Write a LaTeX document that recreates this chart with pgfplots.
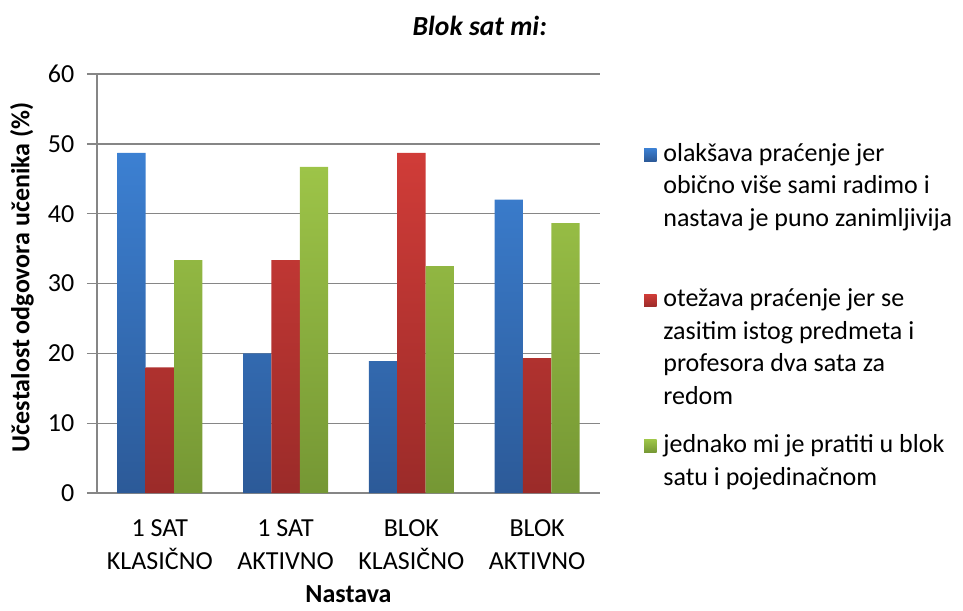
\documentclass[border=0pt]{standalone}
\usepackage{fontspec}
\setmainfont{Carlito}
\usepackage{pgfplots}
\pgfplotsset{compat=1.18}
\definecolor{gridgray}{RGB}{134,134,134}
\definecolor{bluetop}{RGB}{60,128,210}
\definecolor{bluebot}{RGB}{44,90,152}
\definecolor{redtop}{RGB}{208,60,56}
\definecolor{redbot}{RGB}{155,43,41}
\definecolor{greentop}{RGB}{157,196,72}
\definecolor{greenbot}{RGB}{117,151,52}
\newcommand{\cf}{\fontsize{19.5}{24.4}\selectfont}
\newcommand{\lt}[1]{\begin{tabular}[t]{@{\hspace{5pt}}l@{}}#1\end{tabular}}
\begin{document}
\begin{tikzpicture}
\useasboundingbox (-72.75pt,-87.75pt) rectangle (649.5pt,369.75pt);
\begin{axis}[
  scale only axis,
  width=377.25pt, height=314.25pt,
  at={(0,0)}, anchor=south west,
  ybar=0pt, bar width=21.3pt,
  xmin=-0.5, xmax=3.5, ymin=0, ymax=60,
  xtick={0,1,2,3},
  xticklabels={{1 SAT\\KLASIČNO},{1 SAT\\AKTIVNO},{BLOK\\KLASIČNO},{BLOK\\AKTIVNO}},
  xticklabel style={align=center, font=\cf, text=black, yshift=-9pt},
  ytick={0,10,20,30,40,50,60},
  yticklabel style={font=\cf, text=black, xshift=-6pt},
  /pgf/number format/assume math mode=true,
  axis x line*=bottom, axis y line*=left,
  axis line style={gridgray, line width=1pt},
  x axis line style={-}, y axis line style={-},
  ymajorgrids, major grid style={gridgray, line width=1pt},
  tick align=outside, major tick length=7.5pt,
  ytick style={gridgray, line width=1pt},
  xtick style={draw=none},
  ylabel={\textbf{Učestalost odgovora učenika (\%)}},
  ylabel style={font=\cf, at={(axis description cs:-0.149,0.515)}, anchor=center, rotate=0},
  xlabel={\textbf{Nastava}},
  xlabel style={font=\cf, at={(axis description cs:0.5,-0.241)}, anchor=center},
  legend style={draw=none, fill=none, at={(axis description cs:1.087,0.847)}, anchor=north west, font=\cf, row sep=90.7pt, inner sep=0pt,
    nodes={anchor=base west, inner sep=0pt}},
  legend cell align=left,
  legend image code/.code={\path[#1] (0pt,0pt) rectangle (9.5pt,9.5pt);},
  clip=false,
]
\addplot[draw=none, top color=bluetop, bottom color=bluebot] coordinates {(0,48.7) (1,20.0) (2,18.9) (3,42.0)};
\addplot[draw=none, top color=redtop, bottom color=redbot] coordinates {(0,18.0) (1,33.35) (2,48.7) (3,19.3)};
\addplot[draw=none, top color=greentop, bottom color=greenbot] coordinates {(0,33.35) (1,46.7) (2,32.5) (3,38.65)};
\legend{{\lt{olakšava praćenje jer\\obično više sami radimo i\\nastava je puno zanimljivija}},
{\lt{otežava praćenje jer se\\zasitim istog predmeta i\\profesora dva sata za\\redom}},
{\lt{jednako mi je pratiti u blok\\satu i pojedinačnom}}}
\node[font=\fontsize{20.7}{25}\selectfont\bfseries\itshape] at (axis description cs:0.761,1.115) {Blok sat mi:};
\end{axis}
\end{tikzpicture}
\end{document}
